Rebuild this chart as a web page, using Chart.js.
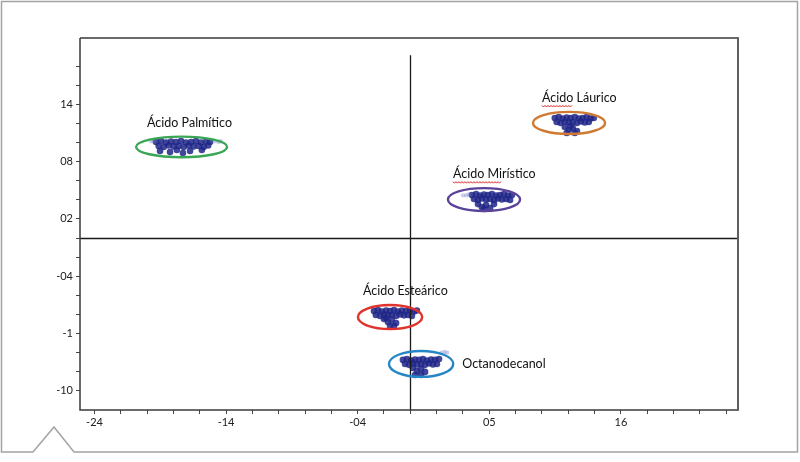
<!DOCTYPE html>
<html>
<head>
<meta charset="utf-8">
<script src="https://cdn.jsdelivr.net/npm/chart.js@4.4.1/dist/chart.umd.min.js"></script>
<style>
  html, body { margin: 0; padding: 0; background: #fff; }
  #chart { display: block; }
</style>
</head>
<body>
<canvas id="chart" width="800" height="462"></canvas>
<script>
// cluster names, in the order of the datasets
const clusterNames = ['Ácido Palmítico', 'Ácido Láurico', 'Ácido Mirístico', 'Ácido Esteárico', 'Octanodecanol'];

// axis ticks (one tick per minor step, labels only on some of them)
const xTickValues = [-12,-11,-10,-9,-8,-7,-6,-5,-4,-3,-2,-1,0,1,2,3,4,5,6,7,8,9,10,11,12];
const xLabelValues = [-12, -7, -2, 3, 8];
const xLabels = ['-24', '-14', '-04', '05', '16'];
const yTickValues = [-8,-7,-6,-5,-4,-3,-2,-1,0,1,2,3,4,5,6,7,8,9];
const yLabelValues = [7, 4, 1, -2, -5, -8];
const yLabels = ['14', '08', '02', '-04', '-1', '-10'];

// scores
const palmiticoX = [-9.66,-9.47,-9.28,-9.09,-8.90,-8.71,-8.52,-8.33,-8.14,-7.95,-7.76,-7.61, -9.56,-9.37,-9.18,-8.99,-8.80,-8.61,-8.42,-8.23,-8.04,-7.85,-7.68, -9.51,-9.13,-8.87,-8.64,-8.37,-7.92];
const palmiticoY = [5.04,5.09,5.01,5.06,5.04,5.09,5.01,5.04,5.09,5.01,5.06,5.04, 4.83,4.78,4.86,4.81,4.83,4.78,4.86,4.81,4.83,4.78,4.86, 4.57,4.51,4.62,4.46,4.57,4.62];

const lauricoX = [5.49,5.64,5.79,5.94,6.09,6.25,6.40,6.55,6.70,6.85,6.97, 5.56,5.71,5.87,6.02,6.17,6.33,6.48,6.63,6.78, 5.87,6.02,6.17,6.33,5.94,6.25,6.09];
const lauricoY = [6.30,6.35,6.27,6.33,6.30,6.35,6.27,6.30,6.35,6.27,6.30, 6.09,6.04,6.12,6.07,6.09,6.04,6.12,6.07,6.09, 5.83,5.67,5.77,5.62,5.51,5.51,5.88];

const miristicoX = [2.34,2.50,2.65,2.80,2.95,3.10,3.26,3.41,3.56,3.71,3.86, 2.42,2.57,2.72,2.88,3.03,3.18,3.33,3.48,3.64,3.79, 2.57,2.72,2.88,3.03,2.80,3.18];
const miristicoY = [2.26,2.31,2.23,2.28,2.26,2.31,2.23,2.26,2.31,2.23,2.26, 2.05,2.00,2.08,2.02,2.05,2.00,2.08,2.02,2.05,2.00, 1.78,1.63,1.73,1.57,1.52,1.78];

const estearicoX = [-1.38,-1.23,-1.08,-0.92,-0.77,-0.62,-0.47,-0.32,-0.16,-0.01,0.14,0.25, -1.31,-1.15,-1.00,-0.85,-0.70,-0.54,-0.39,-0.24,-0.09,0.06, -1.00,-0.85,-0.70,-0.54,-0.77,-0.62,-0.92];
const estearicoY = [-3.83,-3.78,-3.86,-3.81,-3.83,-3.78,-3.86,-3.81,-3.83,-3.78,-3.86,-3.81, -4.04,-4.09,-4.01,-4.06,-4.04,-4.09,-4.01,-4.06,-4.04,-4.09, -4.25,-4.41,-4.30,-4.46,-4.62,-4.62,-4.20];

const octanoX = [-0.28,-0.13,0.03,0.18,0.33,0.48,0.63,0.79,0.94,1.09, -0.20,-0.05,0.10,0.25,0.41,0.56,0.71,0.86,1.01, 0.10,0.25,0.41,0.56,0.18,0.41];
const octanoY = [-6.40,-6.35,-6.43,-6.38,-6.40,-6.35,-6.43,-6.38,-6.40,-6.35, -6.61,-6.66,-6.58,-6.64,-6.61,-6.66,-6.58,-6.64,-6.61, -6.82,-6.98,-6.88,-7.03,-7.19,-7.19];

// faint sample labels next to some groups (drawn as pale points)
const faintX = [-9.85,-9.75,-7.45,-7.30,-7.20, 2.00,2.12,2.22, 1.18,1.30,1.40];
const faintY = [5.08,5.08,5.08,5.04,5.08, 2.24,2.24,2.28, -6.02,-5.98,-6.02];

// ellipses round each group (centre and half axes, in score units)
const ellipseCX = [-8.69, 6.03, 2.80, -0.77, 0.41];
const ellipseCY = [4.78, 6.04, 2.02, -4.15, -6.61];
const ellipseRX = [1.73, 1.37, 1.37, 1.22, 1.22];
const ellipseRY = [0.54, 0.58, 0.60, 0.63, 0.68];

// styles
const ellipseColors = ['#3aa655', '#cf7a30', '#5a4399', '#e0332d', '#2586c6'];
const labelStyle = [
  { pos: 'above', dx: 11 },
  { pos: 'above', dx: 9, squiggle: 'Ácido' },
  { pos: 'above', dx: 5, squiggle: 'Ácido Mi' },
  { pos: 'above', dx: 5 },
  { pos: 'right', dx: 9 }
];
const FONT = 'Lato, "Open Sans", sans-serif';

function toPoints(xs, ys) {
  return xs.map((x, i) => ({ x: x, y: ys[i] }));
}

const groups = [
  toPoints(palmiticoX, palmiticoY),
  toPoints(lauricoX, lauricoY),
  toPoints(miristicoX, miristicoY),
  toPoints(estearicoX, estearicoY),
  toPoints(octanoX, octanoY)
];

const decor = {
  id: 'decor',
  beforeDraw(chart) {
    const ctx = chart.ctx;
    ctx.save();
    ctx.fillStyle = '#fff';
    ctx.fillRect(0, 0, chart.width, chart.height);
    // outer frame with the little notch
    ctx.strokeStyle = '#a3a3a3';
    ctx.lineWidth = 1.5;
    ctx.beginPath();
    ctx.moveTo(1.5, 1.5);
    ctx.lineTo(797.5, 1.5);
    ctx.lineTo(797.5, 452);
    ctx.lineTo(74, 452);
    ctx.lineTo(54, 427);
    ctx.lineTo(33, 452);
    ctx.lineTo(1.5, 452);
    ctx.closePath();
    ctx.stroke();
    ctx.restore();
  },
  afterDatasetsDraw(chart) {
    const ctx = chart.ctx;
    const xs = chart.scales.x, ys = chart.scales.y;
    const a = chart.chartArea;
    ctx.save();
    // zero lines
    ctx.strokeStyle = '#1a1a1a';
    ctx.lineWidth = 1.3;
    const y0 = Math.round(ys.getPixelForValue(0)) + 0.5;
    const x0 = Math.round(xs.getPixelForValue(0)) + 0.5;
    ctx.beginPath();
    ctx.moveTo(a.left, y0); ctx.lineTo(a.right, y0);
    ctx.moveTo(x0, ys.getPixelForValue(9.6)); ctx.lineTo(x0, a.bottom);
    ctx.stroke();

    // ellipses
    ellipseCX.forEach((cx, i) => {
      const px = xs.getPixelForValue(cx);
      const py = ys.getPixelForValue(ellipseCY[i]);
      const rx = Math.abs(xs.getPixelForValue(cx + ellipseRX[i]) - px);
      const ry = Math.abs(ys.getPixelForValue(ellipseCY[i] + ellipseRY[i]) - py);
      ctx.strokeStyle = ellipseColors[i];
      ctx.lineWidth = 2.4;
      ctx.beginPath();
      ctx.ellipse(px, py, rx, ry, 0, 0, Math.PI * 2);
      ctx.stroke();

      // group name
      const st = labelStyle[i];
      ctx.font = '12.5px ' + FONT;
      ctx.fillStyle = '#111';
      ctx.textAlign = 'left';
      ctx.textBaseline = 'alphabetic';
      let tx, ty;
      if (st.pos === 'above') {
        tx = px - rx + st.dx;
        ty = py - ry - 10;
      } else {
        tx = px + rx + st.dx;
        ty = py + 4;
      }
      ctx.fillText(clusterNames[i], tx, ty);
      if (st.squiggle) {
        const w = ctx.measureText(st.squiggle).width;
        ctx.strokeStyle = '#e02a2a';
        ctx.lineWidth = 1;
        ctx.beginPath();
        for (let k = 0; k <= w; k += 1.5) {
          const yy = ty + 3.5 + (Math.round(k / 1.5) % 2 === 0 ? 0 : 1.6);
          if (k === 0) ctx.moveTo(tx + k, yy); else ctx.lineTo(tx + k, yy);
        }
        ctx.stroke();
      }
    });

    // plot frame
    ctx.strokeStyle = '#3a3a3a';
    ctx.lineWidth = 1.5;
    ctx.beginPath();
    ctx.moveTo(a.left, a.top); ctx.lineTo(a.right, a.top);
    ctx.moveTo(a.left, a.top); ctx.lineTo(a.left, a.bottom); ctx.lineTo(a.right, a.bottom);
    ctx.stroke();
    ctx.strokeStyle = '#5e5e5e';
    ctx.lineWidth = 2;
    ctx.beginPath();
    ctx.moveTo(a.right, a.top - 0.75); ctx.lineTo(a.right, a.bottom + 0.75);
    ctx.stroke();
    ctx.restore();
  }
};

const datasets = groups.map((pts, i) => ({
  label: clusterNames[i],
  data: pts,
  pointRadius: 3.3,
  pointBorderWidth: 0,
  backgroundColor: 'rgba(30, 38, 135, 0.85)',
  borderColor: 'rgba(30, 38, 135, 0.85)'
}));
datasets.unshift({
  label: 'rótulos',
  data: toPoints(faintX, faintY),
  pointRadius: 2.2,
  pointBorderWidth: 0,
  backgroundColor: 'rgba(110, 120, 200, 0.35)'
});

new Chart(document.getElementById('chart'), {
  type: 'scatter',
  data: { datasets: datasets },
  options: {
    responsive: false,
    animation: false,
    devicePixelRatio: 1,
    layout: { padding: { top: 38, right: 62, left: 0, bottom: 0 } },
    plugins: {
      legend: { display: false },
      tooltip: { enabled: false }
    },
    scales: {
      x: {
        type: 'linear',
        min: -12.55,
        max: 12.45,
        afterBuildTicks: scale => { scale.ticks = xTickValues.map(v => ({ value: v })); },
        afterFit: scale => { scale.height = 52; },
        border: { display: false },
        grid: { drawOnChartArea: false, drawTicks: true, tickLength: 4, color: '#444', lineWidth: 1 },
        ticks: {
          autoSkip: false,
          maxRotation: 0,
          padding: 2,
          color: '#222',
          font: { family: FONT, size: 11 },
          callback: v => { const k = xLabelValues.indexOf(v); return k >= 0 ? xLabels[k] : ''; }
        }
      },
      y: {
        type: 'linear',
        min: -9.03,
        max: 10.5,
        afterBuildTicks: scale => { scale.ticks = yTickValues.map(v => ({ value: v })); },
        afterFit: scale => { scale.width = 80; },
        border: { display: false },
        grid: { drawOnChartArea: false, drawTicks: true, tickLength: 4, color: '#444', lineWidth: 1 },
        ticks: {
          autoSkip: false,
          padding: 3,
          color: '#222',
          font: { family: FONT, size: 11 },
          callback: v => { const k = yLabelValues.indexOf(v); return k >= 0 ? yLabels[k] : ''; }
        }
      }
    }
  },
  plugins: [decor]
});
</script>
</body>
</html>
